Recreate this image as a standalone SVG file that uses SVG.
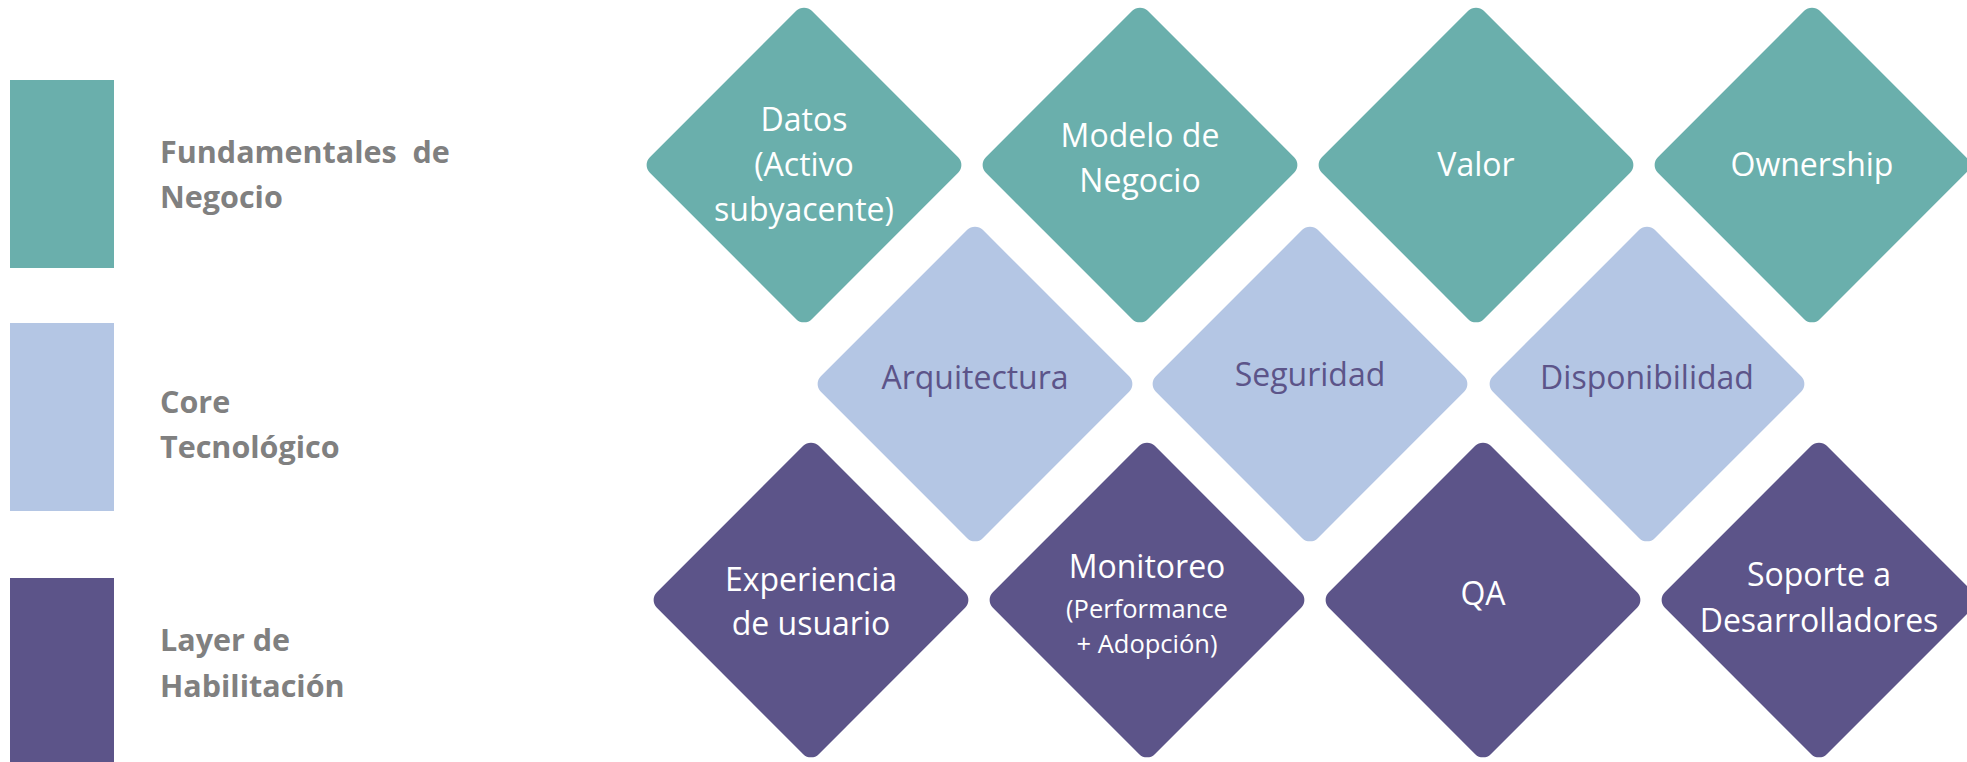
<svg xmlns="http://www.w3.org/2000/svg" width="1967" height="762" viewBox="0 0 1967 762">
<style>
.teal{fill:#6AAFAC}
.blue{fill:#B4C6E4}
.purple{fill:#5C5489}
.lg{font-family:"Open Sans","Liberation Sans",sans-serif;font-weight:bold;font-size:30.5px;fill:#808080}
.t{font-family:"Open Sans","Liberation Sans",sans-serif;font-size:32px;text-anchor:middle}
.w{fill:#FFFFFF}
.d{fill:#5C5489}
.s{font-size:25.5px}
</style>
<defs>
<rect id="dia" x="-114.5" y="-114.5" width="229" height="229" rx="11" ry="11" transform="rotate(45)"/>
</defs>
<rect width="1967" height="762" fill="#FFFFFF"/>
<g id="legend">
<g id="legend-fundamentales">
<rect class="teal" x="10" y="80" width="104" height="188"/>
<text class="lg" x="160" y="163" xml:space="preserve">Fundamentales  de</text>
<text class="lg" x="160" y="208">Negocio</text>
</g>
<g id="legend-core">
<rect class="blue" x="10" y="323" width="104" height="188"/>
<text class="lg" x="160" y="413">Core</text>
<text class="lg" x="160" y="458">Tecnológico</text>
</g>
<g id="legend-layer">
<rect class="purple" x="10" y="578" width="104" height="188"/>
<text class="lg" x="160" y="651">Layer de</text>
<text class="lg" x="160" y="697">Habilitación</text>
</g>
</g>
<g id="connectors"/>
<g id="datos">
<use href="#dia" class="teal" x="804" y="165"/>
<text class="t w" x="804" y="131">Datos</text>
<text class="t w" x="804" y="176">(Activo</text>
<text class="t w" x="804" y="221">subyacente)</text>
</g>
<g id="modelo">
<use href="#dia" class="teal" x="1140" y="165"/>
<text class="t w" x="1140" y="147">Modelo de</text>
<text class="t w" x="1140" y="192">Negocio</text>
</g>
<g id="valor">
<use href="#dia" class="teal" x="1476" y="165"/>
<text class="t w" x="1476" y="176">Valor</text>
</g>
<g id="ownership">
<use href="#dia" class="teal" x="1812" y="165"/>
<text class="t w" x="1812" y="176">Ownership</text>
</g>
<g id="arquitectura">
<use href="#dia" class="blue" x="975" y="384"/>
<text class="t d" x="975" y="389">Arquitectura</text>
</g>
<g id="seguridad">
<use href="#dia" class="blue" x="1310" y="384"/>
<text class="t d" x="1310" y="386">Seguridad</text>
</g>
<g id="disponibilidad">
<use href="#dia" class="blue" x="1647" y="384"/>
<text class="t d" x="1647" y="389">Disponibilidad</text>
</g>
<g id="experiencia">
<use href="#dia" class="purple" x="811" y="600"/>
<text class="t w" x="811" y="591">Experiencia</text>
<text class="t w" x="811" y="635">de usuario</text>
</g>
<g id="monitoreo">
<use href="#dia" class="purple" x="1147" y="600"/>
<text class="t w" x="1147" y="578">Monitoreo</text>
<text class="t w s" x="1147" y="618">(Performance</text>
<text class="t w s" x="1147" y="653">+ Adopción)</text>
</g>
<g id="qa">
<use href="#dia" class="purple" x="1483" y="600"/>
<text class="t w" x="1483" y="605">QA</text>
</g>
<g id="soporte">
<use href="#dia" class="purple" x="1819" y="600"/>
<text class="t w" x="1819" y="586">Soporte a</text>
<text class="t w" x="1819" y="632">Desarrolladores</text>
</g>
</svg>
